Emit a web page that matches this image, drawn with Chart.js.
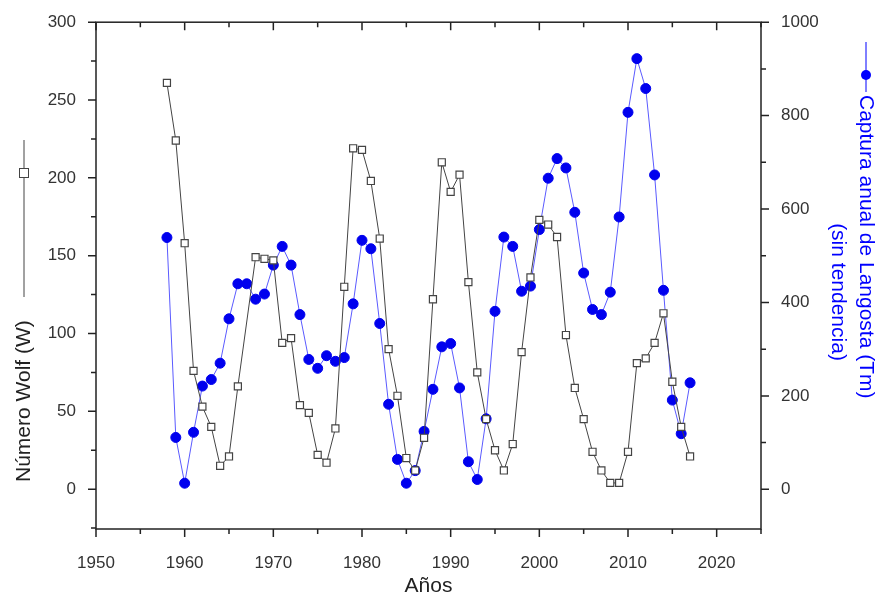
<!DOCTYPE html>
<html>
<head>
<meta charset="utf-8">
<script src="https://cdn.jsdelivr.net/npm/chart.js@4"></script>
<style>
  html, body { margin: 0; padding: 0; background: #fff; }
  #wrap { width: 885px; height: 601px; }
</style>
</head>
<body>
<div id="wrap"><canvas id="grafico"></canvas></div>
<script>
const anos = [];
for (let a = 1958; a <= 2017; a++) anos.push(a);

// Número Wolf (W), 1967 no visible en la figura
const wolf = [261, 224, 158, 76, 53, 40, 15, 21, 66, null, 149, 148, 147, 94, 97, 54, 49, 22, 17, 39,
  130, 219, 218, 198, 161, 90, 60, 20, 12, 33, 122, 210, 191, 202, 133, 75, 45, 25, 12, 29,
  88, 136, 173, 170, 162, 99, 65, 45, 24, 12, 4, 4, 24, 81, 84, 94, 113, 69, 40, 21];

// Captura anual de langosta (Tm), sin tendencia
const langosta = [539, 111, 13, 122, 221, 235, 270, 365, 440, 440, 407, 418, 480, 520, 480, 374, 278, 259, 286, 274,
  282, 397, 533, 515, 355, 182, 64, 13, 40, 124, 214, 305, 312, 217, 59, 21, 151, 381, 540, 520,
  424, 435, 556, 666, 708, 688, 593, 463, 385, 374, 422, 583, 807, 922, 858, 673, 426, 191, 119, 228];

const ticksIzq = [0, 50, 100, 150, 200, 250, 300];
const ticksDer = [0, 200, 400, 600, 800, 1000];
const ticksX = [1950, 1960, 1970, 1980, 1990, 2000, 2010, 2020];

const fuente = 'Liberation Sans, Arial, sans-serif';

const titulos = {
  id: 'titulos',
  afterDraw(chart) {
    const ctx = chart.ctx;
    const area = chart.chartArea;
    const sx = chart.scales.x, sy = chart.scales.y, sy2 = chart.scales.y2;
    ctx.save();
    ctx.strokeStyle = '#222';
    ctx.lineWidth = 1.5;
    ctx.strokeRect(area.left, area.top, area.right - area.left, area.bottom - area.top);

    // marcas de graduación (mayores y menores)
    ctx.beginPath();
    for (let v = 1950; v <= 2025; v += 5) {
      const p = sx.getPixelForValue(v);
      const l = v % 10 === 0 ? 8 : 5;
      ctx.moveTo(p, area.bottom); ctx.lineTo(p, area.bottom + l);
      ctx.moveTo(p, area.top); ctx.lineTo(p, area.top + l);
    }
    for (let v = -25; v <= 300; v += 25) {
      const p = sy.getPixelForValue(v);
      ctx.moveTo(area.left, p); ctx.lineTo(area.left - (v % 50 === 0 ? 8 : 5), p);
    }
    for (let v = 0; v <= 1000; v += 100) {
      const p = sy2.getPixelForValue(v);
      ctx.moveTo(area.right, p); ctx.lineTo(area.right + (v % 200 === 0 ? 8 : 5), p);
    }
    ctx.stroke();

    ctx.font = '21px ' + fuente;
    ctx.fillStyle = '#222';
    ctx.textAlign = 'center';
    ctx.textBaseline = 'middle';
    ctx.fillText('Años', (area.left + area.right) / 2, 586);

    // título eje izquierdo
    ctx.save();
    ctx.translate(24, 482);
    ctx.rotate(-Math.PI / 2);
    ctx.textAlign = 'left';
    ctx.fillText('Número Wolf (W)', 0, 0);
    ctx.strokeStyle = '#444';
    ctx.lineWidth = 1;
    ctx.beginPath(); ctx.moveTo(185, 0); ctx.lineTo(342, 0); ctx.stroke();
    ctx.fillStyle = '#fff';
    ctx.fillRect(304, -5, 10, 10);
    ctx.strokeRect(304.5, -4.5, 9, 9);
    ctx.restore();

    // título eje derecho
    ctx.save();
    ctx.translate(866, 0);
    ctx.rotate(Math.PI / 2);
    ctx.fillStyle = '#0000ff';
    ctx.textAlign = 'left';
    ctx.fillText('Captura anual de Langosta (Tm)', 95, 0);
    ctx.textAlign = 'center';
    ctx.fillText('(sin tendencia)', 292, 28);
    ctx.strokeStyle = '#0000ff';
    ctx.lineWidth = 1;
    ctx.beginPath(); ctx.moveTo(42, 0); ctx.lineTo(92, 0); ctx.stroke();
    ctx.beginPath(); ctx.arc(75, 0, 5, 0, Math.PI * 2); ctx.fill();
    ctx.restore();
    ctx.restore();
  }
};

const tickFont = { size: 17, family: fuente };
new Chart(document.getElementById('grafico').getContext('2d'), {
  type: 'line',
  data: {
    datasets: [{
      label: 'Número Wolf (W)',
      data: anos.map((a, i) => ({ x: a, y: wolf[i] })),
      yAxisID: 'y',
      borderColor: '#444',
      borderWidth: 1,
      pointStyle: 'rect',
      pointRadius: 5,
      pointBackgroundColor: '#fff',
      pointBorderColor: '#444',
      pointBorderWidth: 1.2,
      spanGaps: true,
      tension: 0
    }, {
      label: 'Captura anual de Langosta (Tm)',
      data: anos.map((a, i) => ({ x: a, y: langosta[i] })),
      yAxisID: 'y2',
      borderColor: '#5a5aff',
      borderWidth: 1,
      pointStyle: 'circle',
      pointRadius: 5,
      pointBackgroundColor: '#0000ee',
      pointBorderColor: '#0000ee',
      tension: 0
    }]
  },
  options: {
    responsive: true,
    maintainAspectRatio: false,
    animation: false,
    layout: { padding: { top: 20, left: 0, right: 0, bottom: 0 } },
    plugins: { legend: { display: false }, tooltip: { enabled: false } },
    scales: {
      x: {
        type: 'linear',
        min: 1950, max: 2025,
        afterBuildTicks: s => { s.ticks = ticksX.map(v => ({ value: v })); },
        afterFit: s => { s.height = 72; },
        grid: { display: false },
        border: { display: false },
        ticks: { color: '#333', font: tickFont, padding: 16, maxRotation: 0, callback: v => String(v) }
      },
      y: {
        position: 'left',
        min: -25.6, max: 300,
        afterBuildTicks: s => { s.ticks = ticksIzq.map(v => ({ value: v })); },
        afterFit: s => { s.width = 96; },
        grid: { display: false },
        border: { display: false },
        ticks: { color: '#333', font: tickFont, padding: 12, callback: v => String(v) }
      },
      y2: {
        position: 'right',
        min: -85, max: 1000,
        afterBuildTicks: s => { s.ticks = ticksDer.map(v => ({ value: v })); },
        afterFit: s => { s.width = 124; },
        grid: { display: false },
        border: { display: false },
        ticks: { color: '#333', font: tickFont, padding: 12, callback: v => String(v) }
      }
    }
  },
  plugins: [titulos]
});
</script>
</body>
</html>
